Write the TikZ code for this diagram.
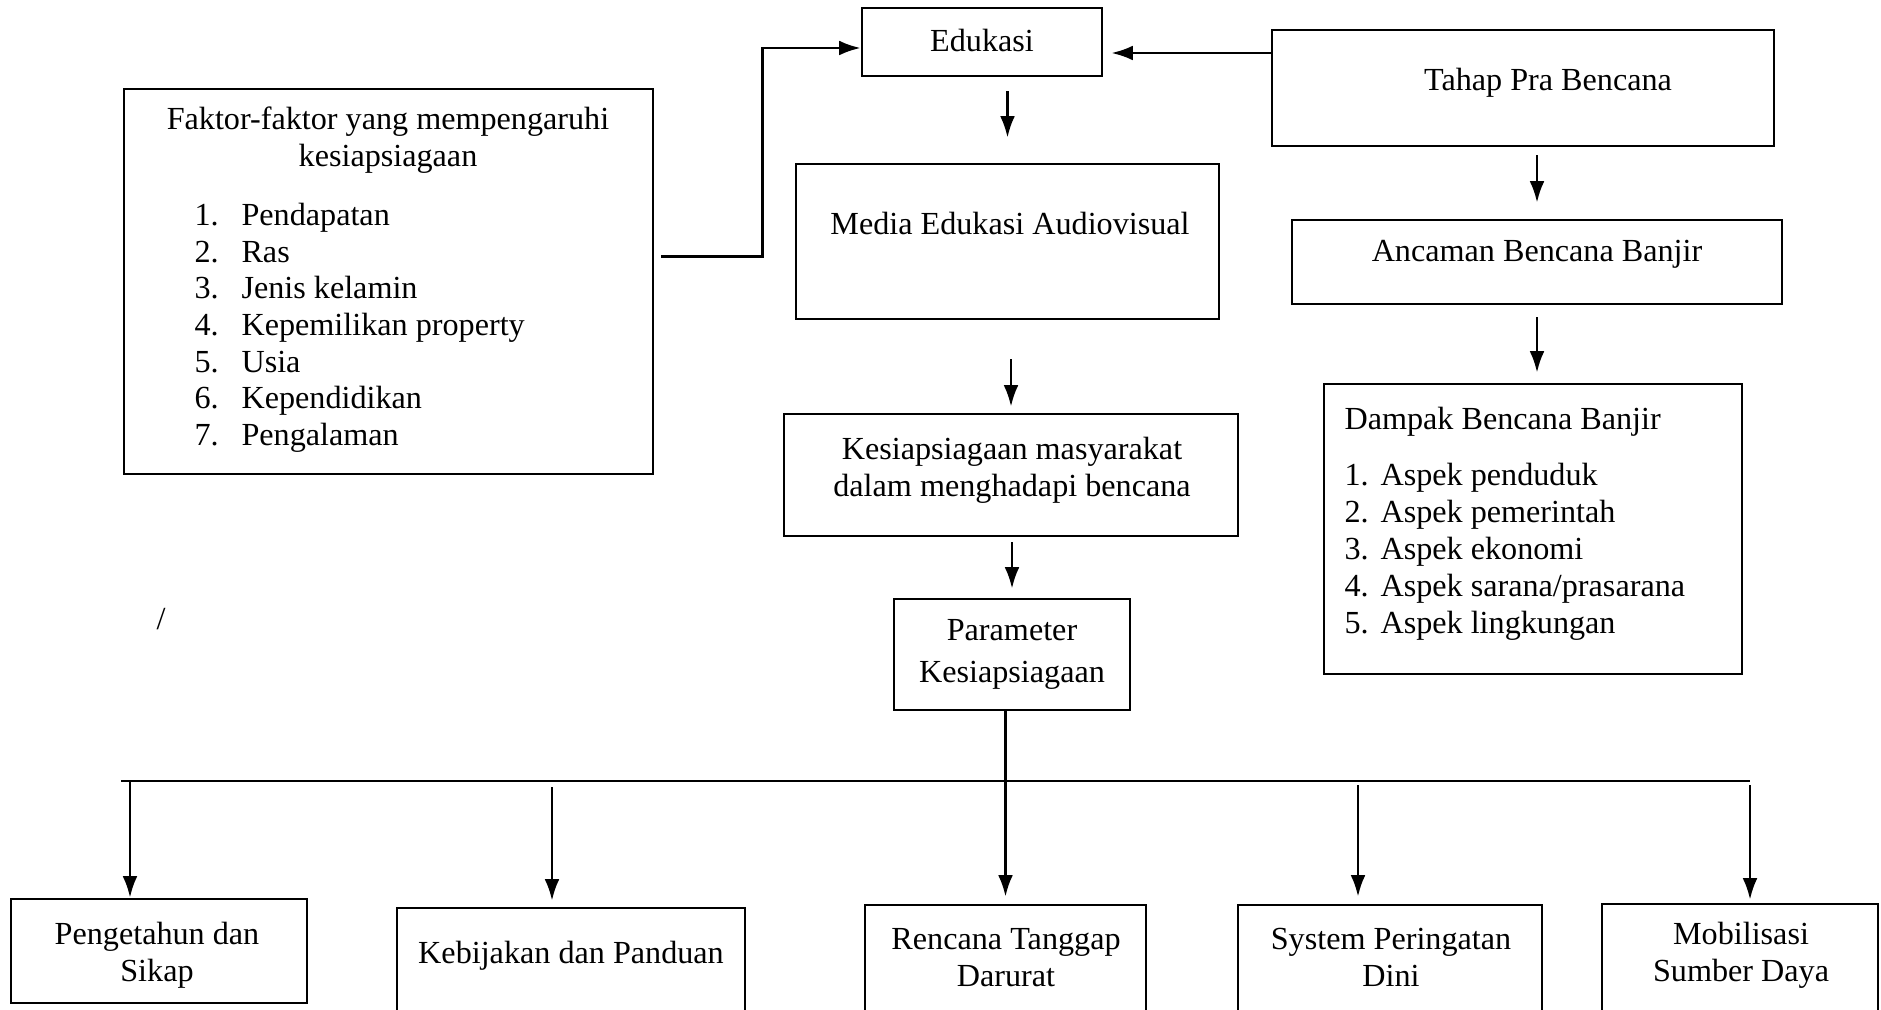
\documentclass[tikz,border=0pt]{standalone}
\usepackage{fontspec}
\setmainfont{Liberation Serif}
\usepackage{tikz}
\usetikzlibrary{arrows,arrows.meta}
\tikzset{>={Latex[length=8pt,width=5.5pt]}}
\newdimen\pxu
\pxu=0.373pt

\tikzset{
  box/.style={draw, line width=1pt, inner sep=0pt},
  txt/.style={font=\fontsize{12}{13.8}\selectfont, align=center, inner sep=0pt, yshift=-3.5\pxu},
  item/.style={font=\fontsize{12}{13.8}\selectfont, inner sep=0pt, anchor=west, text height=8.5pt, text depth=2.6pt, yshift=-3.5\pxu},
  flow/.style={->, line width=1pt},
  link/.style={line width=1pt},
}

\begin{document}
\begin{tikzpicture}[line cap=butt,line join=miter,x=0.373pt,y={(0pt,-0.373pt)}]
		\useasboundingbox (0,0) rectangle (1881,1009);
		% kotak atas
		\node[box,minimum width=240\pxu,minimum height=68\pxu] (edukasi) at (982,42) {};
		\node[box,minimum width=502\pxu,minimum height=116\pxu] (tahap) at (1523,88) {};
		\node[box,minimum width=529\pxu,minimum height=385\pxu] (faktor) at (388.5,281.5) {};
		\node[box,minimum width=423\pxu,minimum height=155\pxu] (media) at (1007.5,241.5) {};
		\node[box,minimum width=454\pxu,minimum height=122\pxu] (kesiap) at (1011,475) {};
		\node[box,minimum width=236\pxu,minimum height=111\pxu] (param) at (1012,654.5) {};
		\node[box,minimum width=490\pxu,minimum height=84\pxu] (ancaman) at (1537,262) {};
		\node[box,minimum width=418\pxu,minimum height=290\pxu] (dampak) at (1533,529) {};
		% kotak bawah
		\node[box,minimum width=296\pxu,minimum height=104\pxu] (peng) at (159,951) {};
		\node[box,minimum width=348\pxu,minimum height=152\pxu] (kebijakan) at (571,984) {};
		\node[box,minimum width=281\pxu,minimum height=155\pxu] (rencana) at (1005.5,982.5) {};
		\node[box,minimum width=304\pxu,minimum height=155\pxu] (system) at (1390,982.5) {};
		\node[box,minimum width=276\pxu,minimum height=156\pxu] (mobilisasi) at (1740,982) {};

		% teks
		\node[txt] (edukasi-t) at (982,37) {Edukasi};
		\node[txt] (tahap-t) at (1548,79) {Tahap Pra Bencana};
		\node[txt] (faktor-t) at (388,137) {Faktor-faktor yang mempengaruhi\\kesiapsiagaan};
		\foreach \i/\t in {1/Pendapatan,2/Ras,3/Jenis kelamin,4/Kepemilikan property,5/Usia,6/Kependidikan,7/Pengalaman}
			{
			\node[item] (fn\i) at (194,{214+36.7*(\i-1)}) {\i.};
			\node[item] (f\i) at (241,{214+36.7*(\i-1)}) {\t};
			}
		\node[txt] (media-t) at (1010,220) {Media Edukasi Audiovisual};
		\node[txt] (kesiap-t) at (1012,467) {Kesiapsiagaan masyarakat\\dalam menghadapi bencana};
		\node[txt,font=\fontsize{12}{15.6}\selectfont] (param-t) at (1012,651) {Parameter\\Kesiapsiagaan};
		\node[txt] (ancaman-t) at (1537,251) {Ancaman Bencana Banjir};
		\node[item] (dampak-t) at (1344,418) {Dampak Bencana Banjir};
		\foreach \i/\t in {1/Aspek penduduk,2/Aspek pemerintah,3/Aspek ekonomi,4/{Aspek sarana/prasarana},5/Aspek lingkungan}
			{
			\node[item] (dn\i) at (1344,{474+37*(\i-1)}) {\i.};
			\node[item] (d\i) at (1380,{474+37*(\i-1)}) {\t};
			}
		\node[txt] (garis-t) at (161,616) {/};
		\node[txt] (peng-t) at (157,952) {Pengetahun dan\\Sikap};
		\node[txt] (kebijakan-t) at (571,952) {Kebijakan dan Panduan};
		\node[txt] (rencana-t) at (1006,954) {Rencana Tanggap\\Darurat};
		\node[txt] (system-t) at (1391,954) {System Peringatan\\Dini};
		\node[txt] (mobilisasi-t) at (1741,952) {Mobilisasi\\Sumber Daya};

		% panah
		\coordinate (t1) at ([yshift=-11\pxu]edukasi.east);
		\draw[flow,shorten >=8\pxu] (t1 -| tahap.west) -- (t1);
		\coordinate (f1) at ([yshift=25\pxu]faktor.east);
		\coordinate (e1) at ([yshift=-6\pxu]edukasi.west);
		\draw[flow,shorten <=7\pxu] (f1) -- ++(108,0) |- (e1);
		\draw[flow,shorten <=14\pxu,shorten >=25\pxu] (edukasi.south -| media.north) -- (media.north);
		\draw[flow,shorten <=39\pxu,shorten >=6\pxu] (media.south -| kesiap.north) -- (kesiap.north);
		\draw[flow,shorten <=5\pxu,shorten >=9\pxu] (kesiap.south -| param.north) -- (param.north);
		\draw[flow,shorten <=8\pxu,shorten >=16\pxu] (tahap.south -| ancaman.north) -- (ancaman.north);
		\draw[flow,shorten <=12\pxu,shorten >=10\pxu] (ancaman.south) -- (ancaman.south |- dampak.north);
		% garis cabang
		\coordinate (bl) at (121,781);
		\coordinate (br) at (1750,781);
		\draw[link] (bl) -- (br);
		\draw[link] (param.south -| rencana.north) -- (rencana.north |- bl);
		\foreach \n/\d/\s/\g in {peng/-29/0/0,kebijakan/-19/6/6,rencana/0/0/7,system/-32/4/7,mobilisasi/10/4/3}
			{
			\coordinate (top) at ([xshift=\d\pxu]\n.north);
			\draw[flow,shorten <=\s\pxu,shorten >=\g\pxu] (top |- bl) -- (top);
			}
\end{tikzpicture}
\end{document}
